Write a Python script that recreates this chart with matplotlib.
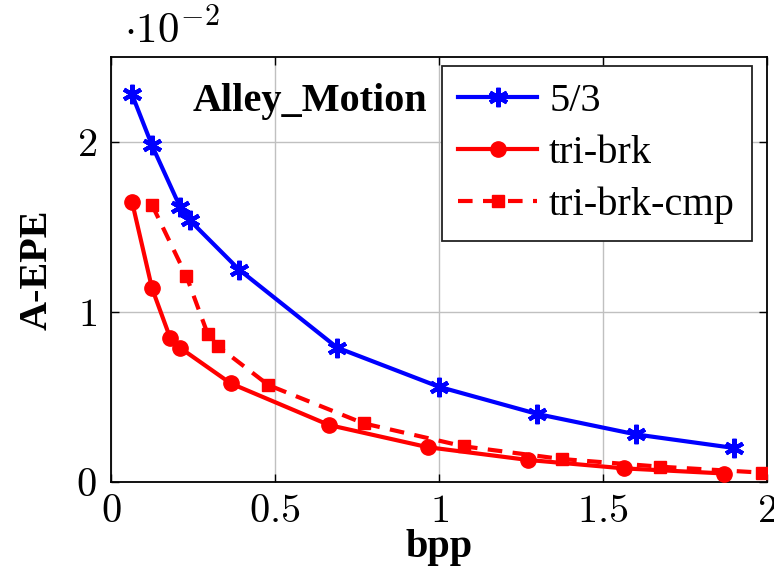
import matplotlib
matplotlib.use("Agg")
import matplotlib.pyplot as plt

plt.rcParams['font.family'] = 'serif'
plt.rcParams['font.serif'] = ['Liberation Serif', 'DejaVu Serif']
plt.rcParams['mathtext.fontset'] = 'cm'

# bpp / A-EPE (x 10^-2)
bpp_53 = [0.064, 0.125, 0.21, 0.24, 0.39, 0.69, 1.0, 1.30, 1.60, 1.90]
epe_53 = [2.28, 1.98, 1.62, 1.54, 1.25, 0.79, 0.56, 0.40, 0.28, 0.20]

bpp_brk = [0.064, 0.125, 0.18, 0.21, 0.365, 0.665, 0.965, 1.27, 1.565, 1.87]
epe_brk = [1.65, 1.14, 0.85, 0.79, 0.58, 0.335, 0.205, 0.13, 0.08, 0.05]

bpp_cmp = [0.125, 0.23, 0.295, 0.325, 0.48, 0.77, 1.075, 1.375, 1.675, 1.985]
epe_cmp = [1.63, 1.21, 0.87, 0.80, 0.57, 0.345, 0.21, 0.135, 0.09, 0.055]

xticks = [0, 0.5, 1, 1.5, 2]
yticks = [0, 1, 2]

fig = plt.figure(figsize=(7.74, 5.66), dpi=100)
ax = fig.add_axes([111 / 774, 1 - 482 / 566, 656 / 774, 425 / 566])

ax.plot(bpp_53, epe_53, color='blue', lw=3, marker=(6, 2, 0), ms=14, mew=3,
        label='5/3', zorder=3)
ax.plot(bpp_brk, epe_brk, color='red', lw=3, marker='o', ms=11,
        label='tri-brk', zorder=3)
ax.plot(bpp_cmp, epe_cmp, color='red', lw=3, ls=(0, (3.5, 2.5)), marker='s', ms=8.5,
        label='tri-brk-cmp', zorder=3)

ax.set_xlim(0, 2)
ax.set_ylim(0, 2.5)
ax.set_xticks(xticks, labels=[f'${t:g}$' for t in xticks])
ax.set_yticks(yticks, labels=[f'${t:g}$' for t in yticks])
ax.tick_params(direction='in', length=6, width=1, top=True, right=True,
               labelsize=29)
ax.tick_params(axis='x', pad=9)
ax.tick_params(axis='y', pad=10)
ax.grid(color='#c0c0c0', lw=1)
ax.set_axisbelow(True)
for s in ax.spines.values():
    s.set_linewidth(1.3)

ax.set_xlabel('bpp', fontsize=29, fontweight='bold', labelpad=-2)
ax.set_ylabel('A-EPE', fontsize=29, fontweight='bold', labelpad=15)

ax.text(0.02, (482 - 43) / 425, r'$\cdot 10^{-2}$', transform=ax.transAxes,
        fontsize=31, ha='left', va='baseline')
ax.text(0.125, 0.895, 'Alley_Motion', transform=ax.transAxes, fontsize=29,
        fontweight='bold', ha='left', va='center')

leg = ax.legend(loc='upper right', bbox_to_anchor=(0.977, 0.979), borderaxespad=0,
                fontsize=29, fancybox=False, framealpha=1, edgecolor='#222222',
                handlelength=1.95, handletextpad=0.3, labelspacing=0.36,
                borderpad=0.42)
leg.get_frame().set_linewidth(1.3)

fig.savefig('out.png', dpi=100)
